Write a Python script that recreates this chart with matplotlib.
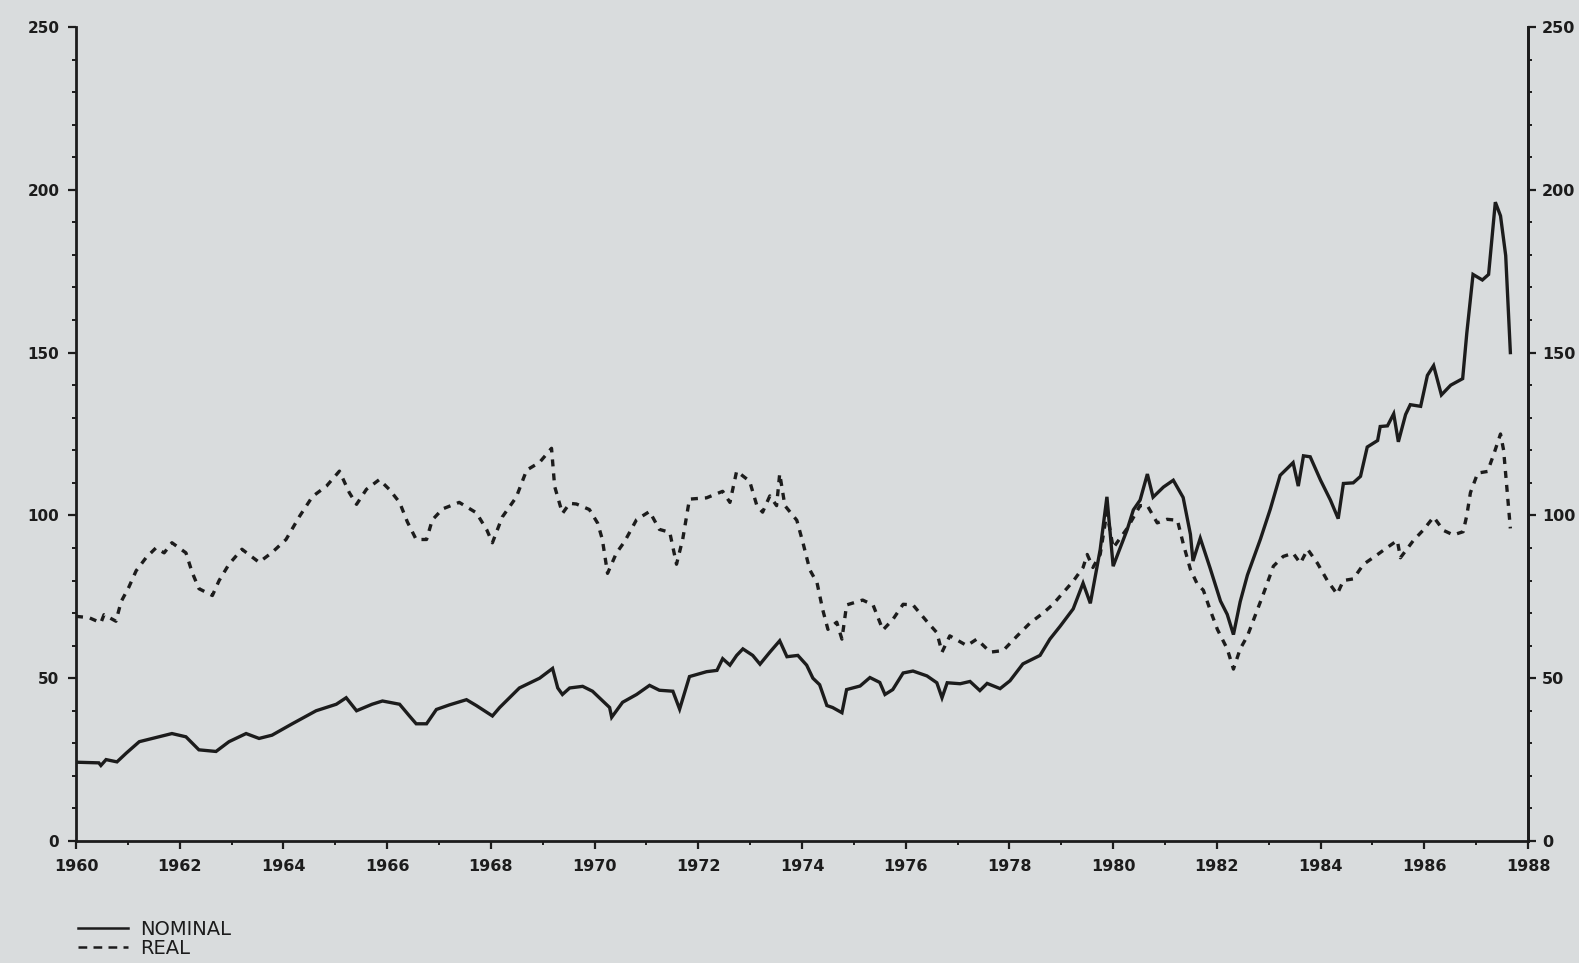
import matplotlib
matplotlib.use("Agg")
import matplotlib.pyplot as plt
from matplotlib.lines import Line2D

# values (index level, decimal year)
nominal_year = [
    1960.00, 1960.44, 1960.48, 1960.58, 1960.79, 1960.97, 1961.22, 1961.60, 1961.85, 1962.12,
    1962.37, 1962.70, 1962.95, 1963.28, 1963.53, 1963.78, 1964.17, 1964.63, 1965.02, 1965.21,
    1965.41, 1965.71, 1965.91, 1966.24, 1966.43, 1966.56, 1966.76, 1966.95, 1967.20, 1967.53,
    1967.72, 1968.03, 1968.17, 1968.55, 1968.94, 1969.19, 1969.29, 1969.38, 1969.52, 1969.77,
    1969.96, 1970.29, 1970.33, 1970.54, 1970.81, 1971.06, 1971.25, 1971.51, 1971.64, 1971.83,
    1972.16, 1972.36, 1972.47, 1972.61, 1972.74, 1972.86, 1973.05, 1973.19, 1973.38, 1973.57,
    1973.71, 1973.92, 1974.09, 1974.21, 1974.34, 1974.48, 1974.59, 1974.77, 1974.86, 1975.12,
    1975.31, 1975.50, 1975.60, 1975.75, 1975.95, 1976.14, 1976.41, 1976.60, 1976.70, 1976.80,
    1977.05, 1977.24, 1977.43, 1977.57, 1977.82, 1978.01, 1978.26, 1978.59, 1978.78, 1978.98,
    1979.23, 1979.42, 1979.56, 1979.75, 1979.88, 1980.00, 1980.27, 1980.39, 1980.52, 1980.66,
    1980.77, 1980.97, 1981.16, 1981.35, 1981.49, 1981.54, 1981.68, 1981.87, 1982.07, 1982.20,
    1982.32, 1982.45, 1982.59, 1982.84, 1983.03, 1983.22, 1983.47, 1983.57, 1983.67, 1983.80,
    1984.00, 1984.19, 1984.34, 1984.44, 1984.63, 1984.77, 1984.90, 1985.10, 1985.15, 1985.29,
    1985.41, 1985.50, 1985.64, 1985.73, 1985.93, 1986.06, 1986.18, 1986.33, 1986.51, 1986.74,
    1986.82, 1986.94, 1987.12, 1987.24, 1987.37, 1987.47, 1987.57, 1987.66,
]
nominal_value = [
    24.2, 24.0, 23.2, 25.0, 24.3, 27.0, 30.5, 32.0, 33.0, 32.0,
    28.0, 27.5, 30.5, 33.0, 31.5, 32.5, 36.0, 40.0, 42.0, 44.0,
    40.0, 42.0, 43.0, 42.0, 38.4, 36.0, 36.0, 40.4, 41.8, 43.4,
    41.6, 38.4, 41.0, 47.0, 50.0, 53.0, 47.0, 45.0, 47.0, 47.5,
    46.0, 41.0, 38.0, 42.6, 45.0, 47.8, 46.3, 46.0, 40.5, 50.5,
    52.0, 52.4, 56.0, 54.0, 57.0, 59.0, 57.0, 54.3, 58.0, 61.5,
    56.6, 57.0, 54.0, 50.0, 48.0, 41.6, 41.0, 39.4, 46.5, 47.6,
    50.2, 48.7, 45.0, 46.5, 51.6, 52.2, 50.7, 48.6, 44.0, 48.6,
    48.3, 49.0, 46.2, 48.4, 46.8, 49.2, 54.4, 57.0, 62.0, 66.0,
    71.3, 79.2, 73.0, 89.5, 105.7, 84.4, 95.6, 101.7, 104.7, 112.7,
    105.6, 108.7, 110.8, 105.5, 94.2, 86.0, 93.0, 83.8, 73.7, 69.6,
    63.4, 73.5, 81.7, 92.7, 101.9, 112.3, 116.2, 109.0, 118.3, 118.0,
    110.8, 104.7, 99.0, 109.8, 110.0, 112.0, 121.0, 123.0, 127.3, 127.5,
    131.2, 122.6, 131.0, 134.0, 133.5, 143.0, 146.0, 137.0, 140.0, 142.0,
    156.0, 174.0, 172.3, 174.0, 196.2, 192.0, 179.8, 150.0,
]

real_year = [
    1960.00, 1960.25, 1960.48, 1960.54, 1960.77, 1960.87, 1961.02, 1961.16, 1961.35, 1961.54,
    1961.70, 1961.85, 1962.12, 1962.24, 1962.37, 1962.63, 1962.76, 1962.95, 1963.20, 1963.53,
    1963.78, 1964.05, 1964.31, 1964.56, 1964.83, 1965.08, 1965.27, 1965.41, 1965.60, 1965.85,
    1966.04, 1966.24, 1966.39, 1966.56, 1966.76, 1966.87, 1967.07, 1967.39, 1967.72, 1967.92,
    1968.03, 1968.22, 1968.49, 1968.69, 1968.94, 1969.17, 1969.23, 1969.38, 1969.52, 1969.65,
    1969.90, 1970.06, 1970.15, 1970.25, 1970.42, 1970.58, 1970.81, 1971.06, 1971.25, 1971.45,
    1971.58, 1971.70, 1971.83, 1972.16, 1972.47, 1972.61, 1972.74, 1972.99, 1973.13, 1973.24,
    1973.38, 1973.51, 1973.57, 1973.67, 1973.90, 1974.02, 1974.15, 1974.29, 1974.40, 1974.50,
    1974.67, 1974.77, 1974.86, 1975.17, 1975.37, 1975.56, 1975.75, 1975.95, 1976.14, 1976.41,
    1976.60, 1976.70, 1976.85, 1977.18, 1977.37, 1977.63, 1977.88, 1978.15, 1978.40, 1978.65,
    1978.84, 1979.23, 1979.42, 1979.50, 1979.61, 1979.75, 1979.88, 1980.00, 1980.27, 1980.52,
    1980.66, 1980.85, 1981.04, 1981.24, 1981.35, 1981.49, 1981.62, 1981.74, 1981.87, 1982.01,
    1982.20, 1982.32, 1982.45, 1982.59, 1982.78, 1982.90, 1983.09, 1983.28, 1983.47, 1983.61,
    1983.75, 1983.94, 1984.13, 1984.32, 1984.44, 1984.63, 1984.83, 1985.10, 1985.29, 1985.48,
    1985.54, 1985.79, 1985.98, 1986.18, 1986.37, 1986.56, 1986.75, 1986.82, 1986.89, 1987.03,
    1987.22, 1987.34, 1987.47, 1987.53, 1987.66,
]
real_value = [
    69.0, 68.6, 67.0, 69.5, 67.5, 73.5, 78.0, 83.0, 87.0, 90.0,
    88.5, 91.6, 88.5, 82.5, 77.5, 75.4, 80.0, 85.0, 89.6, 85.6,
    88.6, 92.6, 99.7, 105.8, 109.0, 113.6, 107.0, 103.4, 108.0, 111.0,
    108.0, 104.0, 98.0, 92.6, 92.6, 98.6, 102.0, 104.0, 100.8, 95.6,
    91.6, 99.5, 105.6, 113.9, 116.3, 120.6, 108.9, 100.6, 103.7, 103.5,
    101.8, 97.6, 92.6, 82.2, 88.4, 92.0, 98.7, 101.2, 95.7, 94.8,
    85.0, 92.7, 105.0, 105.4, 107.4, 104.0, 113.6, 110.5, 103.0, 101.0,
    106.0, 103.0, 112.8, 103.0, 98.5, 91.5, 83.3, 79.3, 71.0, 65.0,
    67.2, 62.0, 72.5, 74.0, 72.5, 64.8, 68.0, 72.7, 72.5, 67.4,
    64.0, 58.0, 63.0, 60.0, 62.0, 58.0, 58.5, 63.0, 67.0, 70.0,
    72.7, 79.8, 84.0, 88.0, 84.0, 88.0, 101.0, 90.0, 96.0, 103.0,
    103.0, 97.7, 98.8, 98.5, 91.4, 83.4, 79.0, 77.0, 71.0, 65.0,
    59.0, 52.8, 59.0, 63.0, 71.0, 76.0, 84.4, 87.4, 88.4, 85.3,
    89.6, 85.3, 80.0, 75.8, 80.0, 80.5, 85.0, 88.0, 90.2, 92.3,
    87.0, 92.3, 95.5, 99.5, 95.4, 94.0, 95.0, 100.0, 107.0, 113.0,
    113.5, 118.8, 125.0, 120.0, 96.0,
]

year_ticks = list(range(1960, 1989, 2))
value_ticks = [0, 50, 100, 150, 200, 250]

paper = "#d9dcdd"
ink = "#1c1c1c"
W, H = 1579, 963

fig = plt.figure(figsize=(W / 100, H / 100), dpi=100, facecolor=paper)
ax = fig.add_axes([76 / W, 1 - 841 / H, (1528 - 76) / W, (841 - 27) / H])
ax.set_facecolor(paper)

ax.plot(nominal_year, nominal_value, color=ink, lw=2.4, solid_joinstyle="miter")
ax.plot(real_year, real_value, color=ink, lw=2.4, linestyle=(0, (2.1, 2.1)))

ax.set_xlim(1960, 1988)
ax.set_ylim(0, 250)
ax.spines["top"].set_visible(False)
for side in ["left", "bottom", "right"]:
    ax.spines[side].set_linewidth(2.0)
    ax.spines[side].set_color(ink)

ax.set_xticks(year_ticks)
ax.set_xticks(range(1961, 1988, 2), minor=True)
ax.set_xticklabels([str(y) for y in year_ticks])
ax.set_yticks(value_ticks)
ax.set_yticks(range(0, 251, 10), minor=True)
ax.set_yticklabels([str(v) for v in value_ticks])
ax.tick_params(which="major", direction="out", length=6, width=1.6, color=ink,
               labelsize=11, labelcolor=ink, pad=6)
ax.tick_params(axis="x", labelsize=11.5, pad=7)
ax.tick_params(which="minor", direction="out", length=3, width=1.4, color=ink)
for lab in ax.get_xticklabels() + ax.get_yticklabels():
    lab.set_fontweight("bold")

# right hand scale, same range
ax2 = ax.twinx()
ax2.set_ylim(0, 250)
ax2.set_yticks(value_ticks)
ax2.set_yticks(range(0, 251, 10), minor=True)
ax2.set_yticklabels([str(v) for v in value_ticks])
for side in ["left", "bottom", "top"]:
    ax2.spines[side].set_visible(False)
ax2.spines["right"].set_linewidth(2.0)
ax2.spines["right"].set_color(ink)
ax2.tick_params(which="major", direction="out", length=6, width=1.6, color=ink,
                labelsize=11.5, labelcolor=ink, pad=4)
ax2.tick_params(which="minor", direction="out", length=3, width=1.4, color=ink)
for lab in ax2.get_yticklabels():
    lab.set_fontweight("bold")

handles = [
    Line2D([], [], color=ink, lw=1.8),
    Line2D([], [], color=ink, lw=1.8, linestyle=(0, (3.5, 2.5))),
]
fig.legend(handles, ["NOMINAL", "REAL"], loc="upper left",
           bbox_to_anchor=(68 / W, 1 - 910 / H), frameon=False,
           fontsize=14, handlelength=2.6, handletextpad=0.6,
           labelspacing=0.0, borderpad=0.0, labelcolor=ink)

fig.savefig("out.png", dpi=100, facecolor=paper)
